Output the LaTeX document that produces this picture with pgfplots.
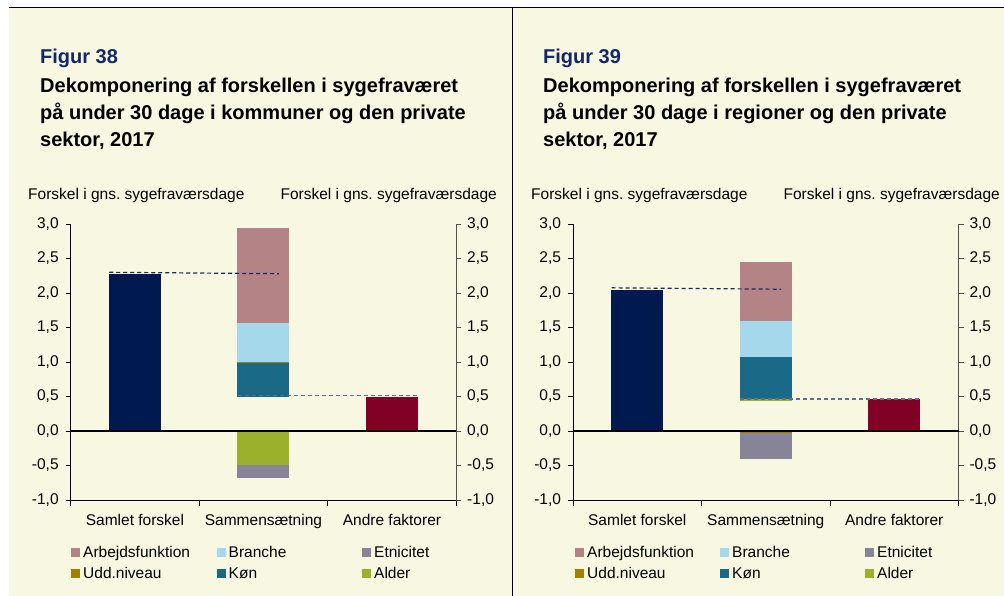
\documentclass[border=0pt]{standalone}
\usepackage{fontspec}
\setmainfont{Liberation Sans}
\usepackage{pgfplots}
\pgfplotsset{compat=1.18}
\definecolor{bgc}{RGB}{248,247,225}
\definecolor{navy}{RGB}{0,25,78}
\definecolor{darkred}{RGB}{128,0,38}
\definecolor{arb}{RGB}{180,131,133}
\definecolor{bra}{RGB}{166,216,236}
\definecolor{etn}{RGB}{134,132,150}
\definecolor{udd}{RGB}{160,128,0}
\definecolor{kon}{RGB}{26,106,135}
\definecolor{ald}{RGB}{155,177,44}
\definecolor{figblue}{RGB}{18,40,105}
\definecolor{dashA}{RGB}{25,40,100}
\definecolor{dashB}{RGB}{95,110,145}
\definecolor{raxis}{RGB}{80,80,80}
\newcommand{\tf}{\fontsize{15.5}{18}\selectfont}
\newcommand{\ttl}{\fontsize{20}{27}\selectfont\bfseries}
\pgfplotsset{
  mainax/.style={
    scale only axis, width=385.5pt, height=276pt,
    xmin=-0.5, xmax=2.5, ymin=-1, ymax=3,
    ybar stacked, stack negative=separate, bar width=52pt,
    axis x line*=bottom, axis y line*=left,
    axis line style={line width=1pt, black},
    xtick={0,1,2}, xticklabels={Samlet forskel, Sammensætning, Andre faktorer},
    major x tick style={draw=none},
    minor xtick={-0.5,0.5,1.5,2.5},
    minor tick length=6pt, major tick length=5pt, tick align=outside,
    ytick={-1,-0.5,0,0.5,1,1.5,2,2.5,3},
    yticklabels={{-1,0},{-0,5},{0,0},{0,5},{1,0},{1,5},{2,0},{2,5},{3,0}},
    tick style={black, line width=0.8pt},
    ticklabel style={font=\tf},
    xticklabel style={yshift=-6pt},
    yticklabel style={xshift=-3.5pt},
    clip=false,
  },
  rightax/.style={
    scale only axis, width=385.5pt, height=276pt,
    xmin=-0.5, xmax=2.5, ymin=-1, ymax=3,
    axis x line=none, axis y line*=right,
    axis line style={line width=1.2pt, raxis},
    major tick length=5pt, tick align=outside,
    ytick={-1,-0.5,0,0.5,1,1.5,2,2.5,3},
    yticklabels={{-1,0},{-0,5},{0,0},{0,5},{1,0},{1,5},{2,0},{2,5},{3,0}},
    tick style={raxis, line width=0.8pt},
    ticklabel style={font=\tf},
    yticklabel style={xshift=2.5pt},
    clip=false,
  },
  nb/.style={draw=none, fill=#1},
}
\begin{document}
\begin{tikzpicture}[x=1pt,y=1pt]
\useasboundingbox (0,0) rectangle (1004,-596);
\fill[white] (0,0) rectangle (1004,-596);
\fill[bgc] (9,-8) rectangle (1004,-596);
\draw[black, line width=1.4pt] (9,-7.8) -- (1004,-7.8);
\draw[black, line width=1.4pt] (512.5,-7.8) -- (512.5,-596);

% ---------- Figure 38 ----------
\node[anchor=base west, inner sep=0, text=figblue, font=\ttl] at (40,-64) {Figur 38};
\node[anchor=base west, inner sep=0, font=\ttl] at (40,-92.5) {Dekomponering af forskellen i sygefraværet};
\node[anchor=base west, inner sep=0, font=\ttl] at (40,-119.5) {på under 30 dage i kommuner og den private};
\node[anchor=base west, inner sep=0, font=\ttl] at (40,-146.5) {sektor, 2017};
\node[anchor=base west, inner sep=0, font=\tf] at (28,-200) {Forskel i gns.\ sygefraværsdage};
\node[anchor=base east, inner sep=0, font=\tf] at (497,-200) {Forskel i gns.\ sygefraværsdage};

\begin{axis}[mainax, at={(70.7pt,-500pt)}, anchor=south west]
\addplot[nb=navy] coordinates {(0,2.28) (1,0) (2,0)};
\addplot[nb=darkred] coordinates {(0,0) (1,0) (2,0.50)};
\addplot[nb=ald] coordinates {(0,0) (1,-0.49) (2,0)};
\addplot[nb=etn] coordinates {(0,0) (1,-0.19) (2,0)};
\addplot[draw=none, fill=none] coordinates {(0,0) (1,0.50) (2,0)};
\addplot[nb=kon] coordinates {(0,0) (1,0.48) (2,0)};
\addplot[nb=udd] coordinates {(0,0) (1,0.02) (2,0)};
\addplot[nb=bra] coordinates {(0,0) (1,0.565) (2,0)};
\addplot[nb=arb] coordinates {(0,0) (1,1.375) (2,0)};
\end{axis}
\begin{axis}[rightax, at={(70.7pt,-500pt)}, anchor=south west]
\addplot[black, line width=1.4pt] coordinates {(-0.5,0) (2.5,0)};
\addplot[dashA, line width=1.2pt, dash pattern=on 4pt off 3pt] coordinates {(-0.2,2.30) (1.12,2.28)};
\addplot[dashB, line width=1.2pt, dash pattern=on 4pt off 3pt] coordinates {(0.8,0.51) (2.2,0.51)};
\end{axis}

\fill[arb] (71,-547.5) rectangle (80,-556.5);
\node[anchor=base west, inner sep=0, font=\tf] at (83,-557.5) {Arbejdsfunktion};
\fill[bra] (217,-547.5) rectangle (226,-556.5);
\node[anchor=base west, inner sep=0, font=\tf] at (228.5,-557.5) {Branche};
\fill[etn] (362,-547.5) rectangle (371,-556.5);
\node[anchor=base west, inner sep=0, font=\tf] at (374,-557.5) {Etnicitet};
\fill[udd] (71,-568.5) rectangle (80,-577.5);
\node[anchor=base west, inner sep=0, font=\tf] at (83,-578.5) {Udd.niveau};
\fill[kon] (217,-568.5) rectangle (226,-577.5);
\node[anchor=base west, inner sep=0, font=\tf] at (228.5,-578.5) {Køn};
\fill[ald] (362,-568.5) rectangle (371,-577.5);
\node[anchor=base west, inner sep=0, font=\tf] at (374,-578.5) {Alder};

% ---------- Figure 39 ----------
\node[anchor=base west, inner sep=0, text=figblue, font=\ttl] at (543,-64) {Figur 39};
\node[anchor=base west, inner sep=0, font=\ttl] at (543,-92.5) {Dekomponering af forskellen i sygefraværet};
\node[anchor=base west, inner sep=0, font=\ttl] at (543,-119.5) {på under 30 dage i regioner og den private};
\node[anchor=base west, inner sep=0, font=\ttl] at (543,-146.5) {sektor, 2017};
\node[anchor=base west, inner sep=0, font=\tf] at (531,-200) {Forskel i gns.\ sygefraværsdage};
\node[anchor=base east, inner sep=0, font=\tf] at (1000,-200) {Forskel i gns.\ sygefraværsdage};

\begin{axis}[mainax, at={(573pt,-500pt)}, anchor=south west]
\addplot[nb=navy] coordinates {(0,2.04) (1,0) (2,0)};
\addplot[nb=darkred] coordinates {(0,0) (1,0) (2,0.46)};
\addplot[nb=udd] coordinates {(0,0) (1,-0.03) (2,0)};
\addplot[nb=etn] coordinates {(0,0) (1,-0.37) (2,0)};
\addplot[draw=none, fill=none] coordinates {(0,0) (1,0.44) (2,0)};
\addplot[nb=ald] coordinates {(0,0) (1,0.02) (2,0)};
\addplot[nb=kon] coordinates {(0,0) (1,0.61) (2,0)};
\addplot[nb=bra] coordinates {(0,0) (1,0.525) (2,0)};
\addplot[nb=arb] coordinates {(0,0) (1,0.855) (2,0)};
\end{axis}
\begin{axis}[rightax, at={(573pt,-500pt)}, anchor=south west]
\addplot[black, line width=1.4pt] coordinates {(-0.5,0) (2.5,0)};
\addplot[dashA, line width=1.2pt, dash pattern=on 4pt off 3pt] coordinates {(-0.2,2.075) (1.12,2.055)};
\addplot[dashB, line width=1.2pt, dash pattern=on 4pt off 3pt] coordinates {(0.8,0.465) (2.2,0.465)};
\end{axis}

\fill[arb] (575,-547.5) rectangle (584,-556.5);
\node[anchor=base west, inner sep=0, font=\tf] at (587,-557.5) {Arbejdsfunktion};
\fill[bra] (720,-547.5) rectangle (729,-556.5);
\node[anchor=base west, inner sep=0, font=\tf] at (732,-557.5) {Branche};
\fill[etn] (865,-547.5) rectangle (874,-556.5);
\node[anchor=base west, inner sep=0, font=\tf] at (877,-557.5) {Etnicitet};
\fill[udd] (575,-568.5) rectangle (584,-577.5);
\node[anchor=base west, inner sep=0, font=\tf] at (587,-578.5) {Udd.niveau};
\fill[kon] (720,-568.5) rectangle (729,-577.5);
\node[anchor=base west, inner sep=0, font=\tf] at (732,-578.5) {Køn};
\fill[ald] (865,-568.5) rectangle (874,-577.5);
\node[anchor=base west, inner sep=0, font=\tf] at (877,-578.5) {Alder};
\end{tikzpicture}
\end{document}
